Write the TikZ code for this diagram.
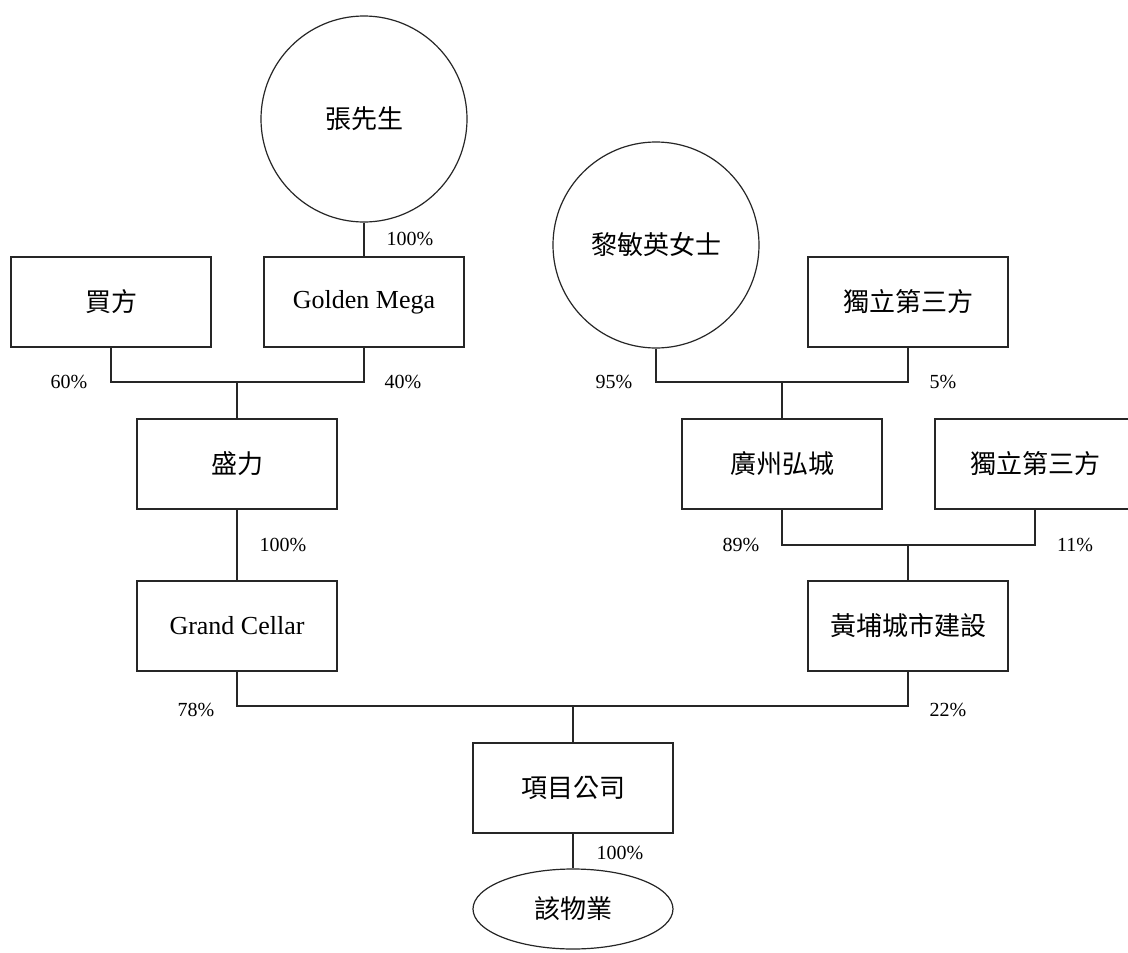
\documentclass[tikz,border=0pt]{standalone}
\usepackage{fontspec}
\setmainfont{Liberation Serif}
\newfontfamily\cjk{Noto Sans CJK TC}
\usetikzlibrary{shapes.geometric}
\begin{document}
\begin{tikzpicture}[x=1pt,y=-1pt, line width=1.2pt,
  link/.style={draw=black!85},
  box/.style={draw=black!85, rectangle, minimum width=200pt, minimum height=90pt, inner sep=0pt, font=\fontsize{26}{30}\selectfont},
  person/.style={draw=black!85, circle, minimum size=206pt, inner sep=0pt, font=\fontsize{26}{30}\selectfont},
  asset/.style={draw=black!85, ellipse, minimum width=200pt, minimum height=80pt, inner sep=0pt, font=\fontsize{26}{30}\selectfont},
  pct/.style={inner sep=0pt, font=\fontsize{20}{24}\selectfont}]
\useasboundingbox (0,0) rectangle (1128,953);
\clip (0,0) rectangle (1128,953);
\fill[white] (0,0) rectangle (1128,953);
% nodes
\node[person] (zhang) at (364,119) {\cjk 張先生};
\node[person] (li) at (656,245) {\cjk 黎敏英女士};
\node[box] (buyer) at (111,302) {\cjk 買方};
\node[box] (golden) at (364,302) {Golden Mega};
\node[box] (ind1) at (908,302) {\cjk 獨立第三方};
\node[box] (shengli) at (237,464) {\cjk 盛力};
\node[box] (gz) at (782,464) {\cjk 廣州弘城};
\node[box] (ind2) at (1035,464) {\cjk 獨立第三方};
\node[box] (gc) at (237,626) {Grand Cellar};
\node[box] (hp) at (908,626) {\cjk 黃埔城市建設};
\node[box] (proj) at (573,788) {\cjk 項目公司};
\node[asset] (prop) at (573,909) {\cjk 該物業};
% junctions
\coordinate (j1) at (237,382);
\coordinate (j2) at (782,382);
\coordinate (j3) at (908,545);
\coordinate (j4) at (573,706);
% connectors
\draw[link] (zhang.south) -- (golden.north);
\draw[link] (buyer.south) |- (j1) -| (golden.south);
\draw[link] (j1) -- (shengli.north);
\draw[link] (li.south) |- (j2) -| (ind1.south);
\draw[link] (j2) -- (gz.north);
\draw[link] (gz.south) |- (j3) -| (ind2.south);
\draw[link] (j3) -- (hp.north);
\draw[link] (shengli.south) -- (gc.north);
\draw[link] (gc.south) |- (j4) -| (hp.south);
\draw[link] (j4) -- (proj.north);
\draw[link] (proj.south) -- (prop.north);
% labels
\node[pct] (l1) at (410,239) {100\%};
\node[pct] (l2) at (69,382) {60\%};
\node[pct] (l3) at (403,382) {40\%};
\node[pct] (l4) at (614,382) {95\%};
\node[pct] (l5) at (943,382) {5\%};
\node[pct] (l6) at (283,545) {100\%};
\node[pct] (l7) at (741,545) {89\%};
\node[pct] (l8) at (1075,545) {11\%};
\node[pct] (l9) at (196,710) {78\%};
\node[pct] (l10) at (948,710) {22\%};
\node[pct] (l11) at (620,853) {100\%};
\end{tikzpicture}
\end{document}
